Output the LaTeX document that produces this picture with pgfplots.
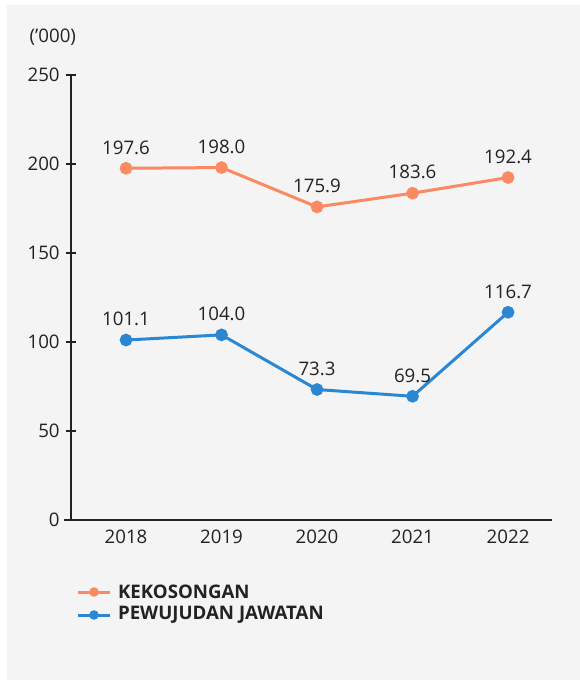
\documentclass[border=0pt]{standalone}
\usepackage{fontspec}
\setmainfont{Open Sans}
\usepackage{pgfplots}
\pgfplotsset{compat=1.18}
\definecolor{bg}{HTML}{F4F4F4}
\definecolor{ink}{HTML}{222222}
\definecolor{kos}{HTML}{FA8A62}
\definecolor{pew}{HTML}{2B87D1}

\begin{document}
\begin{tikzpicture}
% page 580x680 px, 1px = 0.75pt
\fill[white] (0,0) rectangle (435pt,-510pt);
\fill[bg] (5.25pt,-3.75pt) rectangle (435pt,-510pt);
\begin{axis}[
  at={(53.25pt,-390pt)},
  anchor=south west,
  scale only axis,
  width=360.75pt,
  height=333.75pt,
  xmin=-0.576, xmax=4.46,
  ymin=0, ymax=250,
  axis x line=bottom,
  axis y line=left,
  axis line style={draw=ink,line width=1.1pt,-},
  xtick={0,1,2,3,4},
  xticklabels={2018,2019,2020,2021,2022},
  ytick={0,50,100,150,200,250},
  major x tick style={draw=none},
  major y tick style={draw=ink,line width=1.1pt},
  major tick length=8pt,
  tick align=center,
  tick label style={font=\fontsize{14}{16}\selectfont,text=ink},
  xticklabel style={yshift=0pt},
  yticklabel style={xshift=-1pt},
  /pgf/number format/assume math mode=true,
  clip=false,
  nodes near coords,
  nodes near coords style={font=\fontsize{14}{16}\selectfont,text=ink,
    /pgf/number format/fixed,/pgf/number format/fixed zerofill,
    /pgf/number format/precision=1,anchor=south,yshift=6pt},
]
\addplot[kos,line width=2.25pt,mark=*,mark size=3.6pt,mark options={fill=kos,draw=kos}]
  coordinates {(0,197.6) (1,198.0) (2,175.9) (3,183.6) (4,192.4)};
\addplot[pew,line width=2.25pt,mark=*,mark size=3.6pt,mark options={fill=pew,draw=pew}]
  coordinates {(0,101.1) (1,104.0) (2,73.3) (3,69.5) (4,116.7)};
\end{axis}
\draw[ink,line width=1.1pt] (53.25pt,-390pt) -- ++(-5.25pt,0);
% units label
\node[anchor=west,text=ink,font=\fontsize{14}{16}\selectfont] at (18.75pt,-28pt) {(’000)};
% legend
\draw[kos,line width=2.25pt] (58.5pt,-444pt) -- (82.5pt,-444pt);
\fill[kos] (70.5pt,-444pt) circle (3.6pt);
\node[anchor=west,text=ink,font=\fontsize{14}{16}\selectfont\bfseries] at (85pt,-444pt) {KEKOSONGAN};
\draw[pew,line width=2.25pt] (58.5pt,-461.25pt) -- (82.5pt,-461.25pt);
\fill[pew] (70.5pt,-461.25pt) circle (3.6pt);
\node[anchor=west,text=ink,font=\fontsize{14}{16}\selectfont\bfseries] at (85pt,-461.25pt) {PEWUJUDAN JAWATAN};
\end{tikzpicture}
\end{document}
